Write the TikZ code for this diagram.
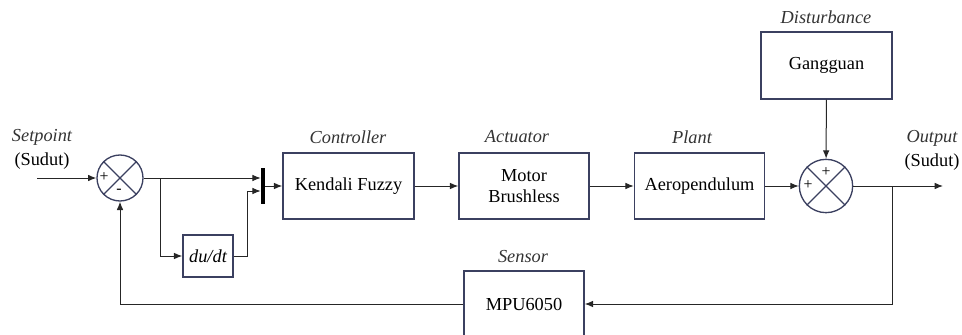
\documentclass[tikz,border=0pt]{standalone}
\usepackage{fontspec}
\setmainfont{Liberation Serif}
\newfontfamily\tnr{Liberation Serif}
\usetikzlibrary{arrows.meta,positioning,calc}
\definecolor{edge}{HTML}{3B4060}
\definecolor{wire}{HTML}{262626}
\tikzset{
  blk/.style ={draw=edge, line width=0.9pt, rectangle, align=center, inner sep=2pt, font=\tnr\fontsize{11}{12.5}\selectfont},
  sumc/.style={draw=edge, line width=0.8pt, circle, inner sep=0pt},
  cross/.style={draw=edge, line width=0.8pt},
  lbl/.style ={font=\tnr\fontsize{11}{12}\selectfont\itshape, text=black!80},
  txt/.style ={font=\tnr\fontsize{11}{12}\selectfont},
  sgn/.style ={font=\tnr\fontsize{9.5}{10}\selectfont, inner sep=0pt},
  ar/.style  ={-{Latex[length=5pt,width=4pt]}, draw=wire, line width=0.6pt},
}
\begin{document}
\begin{tikzpicture}[x=0.6pt,y=-0.6pt]
\useasboundingbox (0,0) rectangle (962,335);
% forward path
\node[sumc, minimum size=27.6pt] (sumin) at (120,178) {};
\draw[cross] (sumin.45) -- (sumin.225) (sumin.135) -- (sumin.315);
\node[sgn] (pin) at (104,177) {+};
\node[sgn] (min) at (119,191) {-};
\node[fill=black, inner sep=0pt, minimum width=2.4pt, minimum height=21.6pt] (mux) at (263,186) {};
\node[blk, minimum width=30pt, minimum height=25.2pt] (deriv) at (208,256) {\itshape du/dt};
\node[blk, minimum width=78.6pt, minimum height=39.6pt] (fuzzy) at (348.5,186) {Kendali Fuzzy};
\node[blk, minimum width=78pt, minimum height=39.6pt] (motor) at (524,186) {Motor\\Brushless};
\node[blk, minimum width=78pt, minimum height=39.6pt] (plant) at (699.5,186) {Aeropendulum};
\node[sumc, minimum size=32pt] (sumout) at (826,186) {};
\draw[cross] (sumout.45) -- (sumout.225) (sumout.135) -- (sumout.315);
\node[sgn] (ptop) at (826,172) {+};
\node[sgn] (pleft) at (808,185) {+};
\node[blk, minimum width=78.6pt, minimum height=40.2pt] (gang) at (826.5,65.5) {Gangguan};
\node[blk, minimum width=72pt, minimum height=39.6pt] (mpu) at (524,304) {MPU6050};
% labels
\node[lbl] (lsp) at (42,137) {Setpoint};
\node[txt] (lsu) at (42,161) {(Sudut)};
\node[lbl] (lctl) at (348,137) {Controller};
\node[lbl] (lact) at (517,137) {Actuator};
\node[lbl] (lpl) at (692,137) {Plant};
\node[lbl] (ldis) at (826,17) {Disturbance};
\node[lbl] (lout) at (932,138) {Output};
\node[txt] (lou) at (932,162) {(Sudut)};
\node[lbl] (lsen) at (523,257) {Sensor};
% connectors
\coordinate (inp) at (37,178);
\coordinate (br) at (160,178);
\coordinate (dv) at (247,191);
\coordinate (tap) at (892,186);
\coordinate (outp) at (943,186);
\draw[ar] (inp) -- (sumin.west);
\draw[ar] (sumin.east) -- (mux.west |- sumin.east);
\draw[ar] (br) |- (deriv.west);
\draw[ar] (deriv.east) -| (dv) -- (mux.west |- dv);
\draw[ar] (mux.east) -- (fuzzy.west);
\draw[ar] (fuzzy) -- (motor);
\draw[ar] (motor) -- (plant);
\draw[ar] (plant) -- (sumout);
\draw[ar] (gang) -- (sumout);
\draw[ar] (sumout.east) -- (outp);
\draw[ar] (tap) |- (mpu.east);
\draw[ar] (mpu.west) -| (sumin.south);
\end{tikzpicture}
\end{document}
